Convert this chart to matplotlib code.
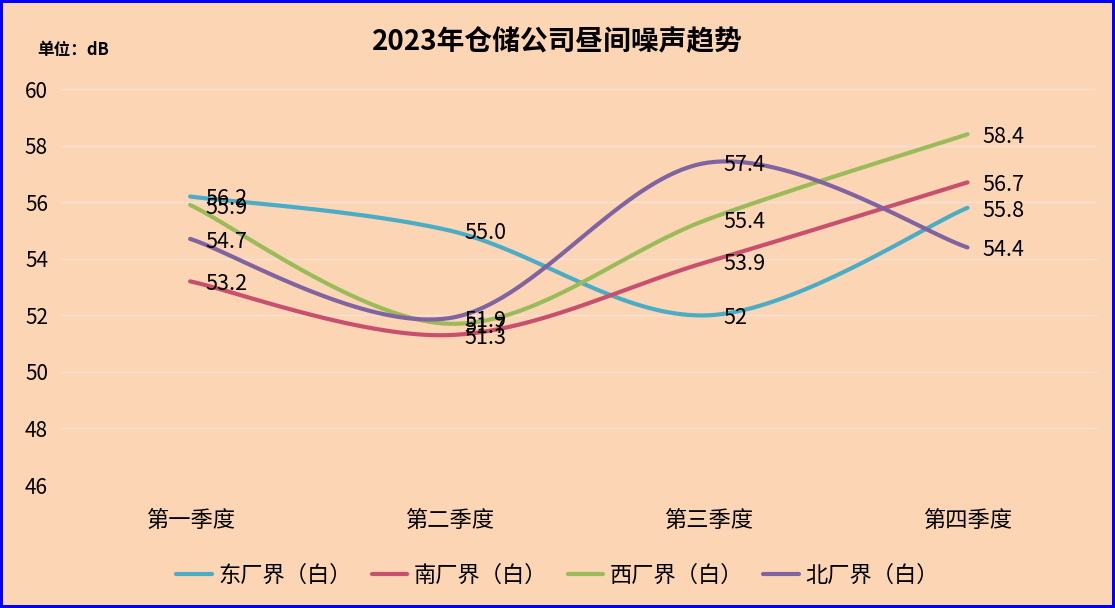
import numpy as np
import matplotlib
matplotlib.use("Agg")
import matplotlib.pyplot as plt

plt.rcParams['font.family'] = ['Noto Sans CJK SC', 'DejaVu Sans']

# data
quarters = ['第一季度', '第二季度', '第三季度', '第四季度']
series_names = ['东厂界（白）', '南厂界（白）', '西厂界（白）', '北厂界（白）']
east = [56.2, 55.0, 52.0, 55.8]
south = [53.2, 51.3, 53.9, 56.7]
west = [55.9, 51.7, 55.4, 58.4]
north = [54.7, 51.9, 57.4, 54.4]
east_labels = ['56.2', '55.0', '52', '55.8']
south_labels = ['53.2', '51.3', '53.9', '56.7']
west_labels = ['55.9', '51.7', '55.4', '58.4']
north_labels = ['54.7', '51.9', '57.4', '54.4']
yticks = [46, 48, 50, 52, 54, 56, 58, 60]

colors = ['#4BACC6', '#C8506E', '#9BBB59', '#8064A2']
bg = '#FCD5B5'


def smooth(xs, ys, n=40):
    # excel-like bezier smoothing through the points
    xs = np.asarray(xs, float)
    ys = np.asarray(ys, float)
    px = np.concatenate([[xs[0]], xs, [xs[-1]]])
    py = np.concatenate([[ys[0]], ys, [ys[-1]]])
    outx, outy = [], []
    t = np.linspace(0, 1, n)
    for i in range(len(xs) - 1):
        p0 = np.array([px[i + 1], py[i + 1]])
        p3 = np.array([px[i + 2], py[i + 2]])
        c1 = p0 + (p3 - np.array([px[i], py[i]])) / 6
        c2 = p3 - (np.array([px[i + 3], py[i + 3]]) - p0) / 6
        b = ((1 - t) ** 3)[:, None] * p0 + (3 * (1 - t) ** 2 * t)[:, None] * c1 \
            + (3 * (1 - t) * t ** 2)[:, None] * c2 + (t ** 3)[:, None] * p3
        outx.extend(b[:, 0])
        outy.extend(b[:, 1])
    return np.array(outx), np.array(outy)


fig = plt.figure(figsize=(11.15, 6.08), dpi=100)
fig.patch.set_facecolor(bg)
fig.patch.set_edgecolor('#0000FF')
fig.patch.set_linewidth(3)

ax = fig.add_axes([0.0543, 0.2023, 0.9296, 0.6513])
ax.set_facecolor(bg)

x = np.arange(len(quarters))
all_vals = [east, south, west, north]
all_labels = [east_labels, south_labels, west_labels, north_labels]
for vals, labs, name, c in zip(all_vals, all_labels, series_names, colors):
    sx, sy = smooth(x, vals)
    ax.plot(sx, sy, color=c, lw=3, label=name, solid_capstyle='round')
    for xi, v, lab in zip(x, vals, labs):
        ax.annotate(lab, (xi, v), xytext=(11, -2), textcoords='offset points',
                    ha='left', va='center', fontsize=15.5, color='black')

ax.set_xlim(-0.5, len(quarters) - 0.5)
ax.set_ylim(46, 60)
ax.set_yticks(yticks)
ax.set_xticks(x)
ax.set_xticklabels(quarters, fontsize=16)
ax.tick_params(axis='both', length=0)
ax.tick_params(axis='y', labelsize=15, pad=9)
ax.tick_params(axis='x', pad=17)
ax.grid(axis='y', color='#F3E3D8', lw=1)
ax.set_axisbelow(True)
for s in ax.spines.values():
    s.set_visible(False)

fig.text(0.5, 1 - 42 / 608, '2023年仓储公司昼间噪声趋势', ha='center', va='center',
         fontsize=20, fontweight='bold')
fig.text(37 / 1115, 1 - 50 / 608, '单位：dB', ha='left', va='center',
         fontsize=12, fontweight='bold')

fig.legend(loc='center', bbox_to_anchor=(0.5, 1 - 575 / 608), ncol=4, frameon=False,
           fontsize=16, handlelength=1.6, columnspacing=0.9, handletextpad=0.3)

fig.savefig('out.png', dpi=100, facecolor=fig.get_facecolor(), edgecolor=fig.get_edgecolor())
